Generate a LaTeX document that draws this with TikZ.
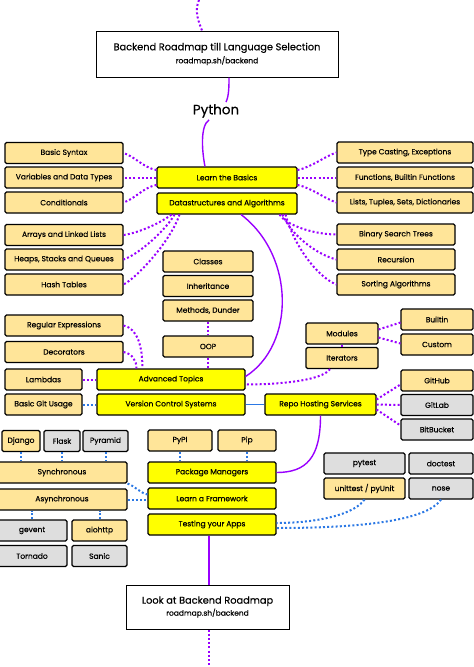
\documentclass[tikz,border=0pt]{standalone}
\usepackage{fontspec}
\setmainfont{Poppins}[FakeBold=0.35]
\usepackage{tikz}
\usetikzlibrary{calc}
\definecolor{topicfill}{HTML}{FFE599}
\definecolor{stepfill}{HTML}{FFFF00}
\definecolor{altfill}{HTML}{DEDEDE}
\definecolor{rmpurple}{HTML}{9900FF}
\definecolor{rmblue}{HTML}{2B78E4}
\newcommand{\boxfont}{\fontsize{7.5}{8}\selectfont}
\newcommand{\titlefont}{\fontsize{9.8}{11}\selectfont}
\newcommand{\subfont}{\fontsize{7.5}{8}\selectfont}
\tikzset{
  rmbox/.style    = {draw=black, line width=1.1pt, rounded corners=1.5pt,
                     minimum height=21pt, inner sep=0pt, font=\boxfont},
  topic/.style    = {rmbox, fill=topicfill},
  mainstep/.style = {rmbox, fill=stepfill},
  altopt/.style   = {rmbox, fill=altfill},
  linkbox/.style  = {draw=black, line width=1pt, fill=white, align=center,
                     inner sep=0pt},
  pdots/.style    = {draw=rmpurple, line width=2pt, dash pattern=on 2pt off 2.2pt},
  bdots/.style    = {draw=rmblue, line width=2pt, dash pattern=on 2pt off 2.2pt},
  pline/.style    = {draw=rmpurple, line width=1.4pt},
  bline/.style    = {draw=rmblue, line width=1.4pt}
}

\begin{document}
\begin{tikzpicture}[x=1pt, y=-1pt]
	\useasboundingbox (0,0) rectangle (474,667);
	\coordinate (roadstart) at (199,0);
	\coordinate (roadend) at (209,667);
	\node[linkbox, minimum width=242pt, minimum height=46pt] (lang) at (217,54)
		{\titlefont Backend Roadmap till Language Selection\\[1pt]\subfont roadmap.sh/backend};
	\node[font=\fontsize{13.5}{15}\selectfont, inner sep=2pt] (python) at (216,111) {Python};
	\node[mainstep, minimum width=140pt] (basics) at (227,177.5) {Learn the Basics};
	\node[mainstep, minimum width=140pt] (dsa) at (227,203.5) {Datastructures and Algorithms};
	\node[topic, minimum width=118pt] (syntax) at (64,153) {Basic Syntax};
	\node[topic, minimum width=118pt] (vars) at (64,177.5) {Variables and Data Types};
	\node[topic, minimum width=118pt] (cond) at (64,202.5) {Conditionals};
	\node[topic, minimum width=118pt] (arrays) at (64,235) {Arrays and Linked Lists};
	\node[topic, minimum width=118pt] (heaps) at (64,259.5) {Heaps, Stacks and Queues};
	\node[topic, minimum width=118pt] (hash) at (64,284.5) {Hash Tables};
	\node[topic, minimum width=136pt] (casting) at (405,152.5) {Type Casting, Exceptions};
	\node[topic, minimum width=136pt] (funcs) at (405,177.5) {Functions, Builtin Functions};
	\node[topic, minimum width=136pt] (lists) at (405,202.5) {Lists, Tuples, Sets, Dictionaries};
	\node[topic, minimum width=118pt] (bst) at (396,234.5) {Binary Search Trees};
	\node[topic, minimum width=118pt] (recursion) at (396,259.5) {Recursion};
	\node[topic, minimum width=118pt] (sorting) at (396,284.5) {Sorting Algorithms};
	\node[topic, minimum width=90pt] (classes) at (208,261.5) {Classes};
	\node[topic, minimum width=90pt] (inherit) at (208,286) {Inheritance};
	\node[topic, minimum width=90pt] (dunder) at (208,310.5) {Methods, Dunder};
	\node[topic, minimum width=90pt] (oop) at (208,346.5) {OOP};
	\node[topic, minimum width=118pt] (regex) at (64,325.5) {Regular Expressions};
	\node[topic, minimum width=118pt] (decorators) at (64,352) {Decorators};
	\node[topic, minimum width=77pt] (lambdas) at (43.5,379.5) {Lambdas};
	\node[topic, minimum width=77pt] (gitusage) at (43.5,404.5) {Basic Git Usage};
	\node[mainstep, minimum width=148pt] (advanced) at (171,379.5) {Advanced Topics};
	\node[mainstep, minimum width=148pt] (vcs) at (171,404.5) {Version Control Systems};
	\node[topic, minimum width=72pt] (modules) at (342,333.5) {Modules};
	\node[topic, minimum width=72pt] (iterators) at (342,358) {Iterators};
	\node[topic, minimum width=72pt] (builtin) at (437,319.5) {Builtin};
	\node[topic, minimum width=72pt] (custom) at (437,344.5) {Custom};
	\node[mainstep, minimum width=111pt] (repohost) at (320.5,404.5) {Repo Hosting Services};
	\node[topic, minimum width=72pt] (github) at (437,380.5) {GitHub};
	\node[altopt, minimum width=72pt] (gitlab) at (437,405) {GitLab};
	\node[altopt, minimum width=72pt] (bitbucket) at (437,429.5) {BitBucket};
	\node[topic, minimum width=64pt] (pypi) at (180,440.5) {PyPI};
	\node[topic, minimum width=58pt] (pip) at (247,440.5) {Pip};
	\node[mainstep, minimum width=128pt] (pkgmgr) at (212,472.5) {Package Managers};
	\node[mainstep, minimum width=128pt] (framework) at (212,498.5) {Learn a Framework};
	\node[mainstep, minimum width=128pt] (testing) at (212,524.5) {Testing your Apps};
	\node[topic, minimum width=38pt] (django) at (21,441) {Django};
	\node[altopt, minimum width=36pt] (flask) at (62,441) {Flask};
	\node[altopt, minimum width=45pt] (pyramid) at (105.5,441) {Pyramid};
	\node[topic, minimum width=130pt] (sync) at (62,472.5) {Synchronous};
	\node[topic, minimum width=130pt] (async) at (62,499.5) {Asynchronous};
	\node[altopt, minimum width=70pt] (gevent) at (32,530.5) {gevent};
	\node[topic, minimum width=55pt] (aiohttp) at (99.5,530.5) {aiohttp};
	\node[altopt, minimum width=70pt] (tornado) at (32,556) {Tornado};
	\node[altopt, minimum width=55pt] (sanic) at (99.5,556) {Sanic};
	\node[altopt, minimum width=81pt] (pytest) at (364.5,463.5) {pytest};
	\node[altopt, minimum width=64pt] (doctest) at (441,463.5) {doctest};
	\node[topic, minimum width=81pt] (unittest) at (364.5,488.5) {unittest / pyUnit};
	\node[altopt, minimum width=64pt] (nose) at (441,488.5) {nose};
	\node[linkbox, minimum width=163pt, minimum height=44pt] (backend) at (207.5,607)
		{\titlefont Look at Backend Roadmap\\[0pt]\subfont roadmap.sh/backend};
	\draw[pdots] (roadstart) .. controls +(-5,12) and +(-3,-8) .. ($(lang.north)+(-15,0)$);
	\draw[pline] ($(lang.south)+(12,0)$) .. controls +(0,8) and +(3,-6) .. ($(python.north)+(10,0)$);
	\draw[pline] ($(python.south)+(-7,0)$) .. controls +(-9,6) and +(-3,-15) .. ($(basics.north)+(-22,0)$);
	\draw[pdots] (basics.174) .. controls +(-14,-3) and +(12,4) .. (syntax.east);
	\draw[pdots] (basics.west) -- (vars.east);
	\draw[pdots] (basics.186) .. controls +(-14,3) and +(12,-4) .. (cond.east);
	\draw[pdots] (basics.6) .. controls +(14,-3) and +(-12,4) .. (casting.west);
	\draw[pdots] (basics.east) -- (funcs.west);
	\draw[pdots] (basics.354) .. controls +(14,3) and +(-12,-4) .. (lists.west);
	\draw[pdots] ($(dsa.south west)+(15,0)$) .. controls +(-10,8) and +(15,-2) .. (arrays.east);
	\draw[pdots] ($(dsa.south west)+(18,0)$) .. controls +(-8,15) and +(15,-5) .. (heaps.east);
	\draw[pdots] ($(dsa.south west)+(23,0)$) .. controls +(-8,25) and +(15,-8) .. (hash.east);
	\draw[pdots] ($(dsa.south east)+(-18,0)$) .. controls +(8,12) and +(-20,0) .. (bst.west);
	\draw[pdots] ($(dsa.south east)+(-15,0)$) .. controls +(8,20) and +(-20,-5) .. (recursion.west);
	\draw[pdots] ($(dsa.south east)+(-12,0)$) .. controls +(8,30) and +(-20,-8) .. (sorting.west);
	\draw[pline] ($(dsa.south)+(14,0)$) .. controls +(54,41) and +(50,-32) .. ($(advanced.east)+(0,-3)$);
	\draw[pdots] (dunder.south) -- (oop.north);
	\draw[pdots] (oop.south) -- (oop.south |- advanced.north);
	\draw[pdots] (regex.east) .. controls +(14,3) and +(0,-22) .. ($(advanced.north west)+(46,0)$);
	\draw[pdots] (decorators.east) .. controls +(9,2) and +(0,-8) .. ($(advanced.north west)+(40,0)$);
	\draw[pdots] (lambdas.east) -- (advanced.west);
	\draw[bdots] (gitusage.east) -- (vcs.west);
	\draw[bline] (vcs.east) -- (repohost.west);
	\draw[pdots] ($(modules.east)+(0,-4)$) -- ($(builtin.west)+(0,3)$);
	\draw[pdots] ($(modules.east)+(0,4)$) -- ($(custom.west)+(0,-1)$);
	\draw[pdots] (modules.south) -- (iterators.north);
	\draw[pdots] ($(iterators.south)+(-12,0)$) .. controls +(-8,12) and +(30,0) .. ($(advanced.east)+(0,5)$);
	\draw[pdots] ($(repohost.east)+(0,-5)$) -- ($(github.west)+(0,4)$);
	\draw[pdots] (repohost.east) -- (gitlab.west);
	\draw[pdots] ($(repohost.east)+(0,5)$) -- ($(bitbucket.west)+(0,-4)$);
	\draw[pline] (repohost.south) .. controls +(0,42) and +(30,0) .. (pkgmgr.east);
	\draw[bdots] (pypi.south) -- (pypi.south |- pkgmgr.north);
	\draw[bdots] (pip.south) -- (pip.south |- pkgmgr.north);
	\draw[bdots] (django.south) -- (django.south |- sync.north);
	\draw[bdots] (flask.south) -- (flask.south |- sync.north);
	\draw[bdots] (pyramid.south) -- (pyramid.south |- sync.north);
	\draw[bdots] (gevent.north) -- (gevent.north |- async.south);
	\draw[bdots] (aiohttp.north) -- (aiohttp.north |- async.south);
	\draw[bdots] (sync.south east) .. controls +(8,3) and +(-8,-2) .. ($(framework.west)+(0,-4)$);
	\draw[bdots] (async.east) -- (async.east -| framework.west);
	\draw[bdots] (unittest.south) .. controls +(-10,15) and +(40,0) .. ($(testing.east)+(0,-1.5)$);
	\draw[bdots] (nose.south) .. controls +(-15,22) and +(80,0) .. ($(testing.east)+(0,3.5)$);
	\draw[pline] ($(testing.south)+(-3,0)$) -- ($(testing.south |- backend.north)+(-3,0)$);
	\draw[pdots] ($(backend.south)+(1.5,0)$) -- (roadend);
\end{tikzpicture}
\end{document}
